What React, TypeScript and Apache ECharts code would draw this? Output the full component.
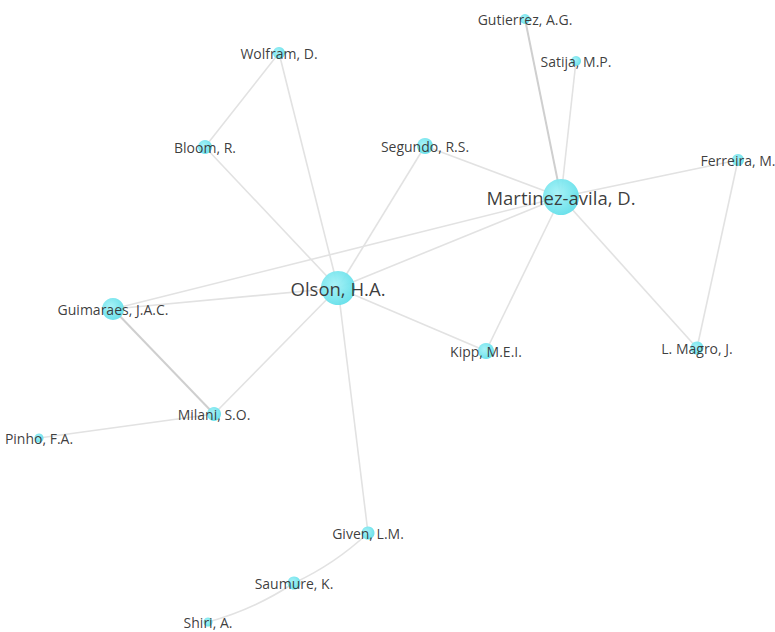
import React, { useEffect, useRef } from "react";
import * as echarts from "echarts";

const names = [
  "Martinez-avila, D.", "Olson, H.A.", "Guimaraes, J.A.C.", "Milani, S.O.", "Pinho, F.A.",
  "Given, L.M.", "Saumure, K.", "Shiri, A.", "Kipp, M.E.I.", "L. Magro, J.",
  "Ferreira, M.", "Segundo, R.S.", "Bloom, R.", "Wolfram, D.", "Gutierrez, A.G.", "Satija, M.P.",
];
const xs = [561, 338, 113, 214, 39, 368, 294, 208, 486, 697, 738, 425, 205, 279, 525, 576];
const ys = [197, 288, 309, 414, 438, 533, 583, 622, 351, 348, 160, 146, 147, 53, 19, 61];
const sizes = [36, 34, 22, 14, 9, 13, 13, 9, 16, 13, 12, 16, 14, 12, 10, 10];
const weights = [3, 3, 2, 1, 1, 1, 1, 1, 1, 1, 1, 1, 1, 1, 1, 1];

const edgeSources = [
  "Wolfram, D.", "Wolfram, D.", "Bloom, R.", "Segundo, R.S.", "Segundo, R.S.",
  "Olson, H.A.", "Guimaraes, J.A.C.", "Martinez-avila, D.", "Martinez-avila, D.", "Martinez-avila, D.",
  "Martinez-avila, D.", "Martinez-avila, D.", "Ferreira, M.", "Olson, H.A.", "Olson, H.A.",
  "Olson, H.A.", "Olson, H.A.", "Guimaraes, J.A.C.", "Milani, S.O.", "Given, L.M.", "Saumure, K.",
];
const edgeTargets = [
  "Bloom, R.", "Olson, H.A.", "Olson, H.A.", "Olson, H.A.", "Martinez-avila, D.",
  "Martinez-avila, D.", "Martinez-avila, D.", "Gutierrez, A.G.", "Satija, M.P.", "Ferreira, M.",
  "L. Magro, J.", "Kipp, M.E.I.", "L. Magro, J.", "Kipp, M.E.I.", "Guimaraes, J.A.C.",
  "Milani, S.O.", "Given, L.M.", "Milani, S.O.", "Pinho, F.A.", "Saumure, K.", "Shiri, A.",
];
const edgeWeights = [1, 1, 1, 1, 1, 1, 1, 2, 1, 1, 1, 1, 1, 1, 1, 1, 1, 2, 1, 1, 1];
const edgeCurves = [0, 0, 0, 0, 0, 0, 0, 0, 0, 0, 0, 0, 0, 0, 0, 0, 0, 0, 0, 0.08, 0.08];

export default function App() {
  const ref = useRef<HTMLDivElement>(null);
  useEffect(() => {
    document.body.style.margin = "0";
    const chart = echarts.init(ref.current!, undefined, { renderer: "svg" });
    const nodeColor = new echarts.graphic.RadialGradient(0.4, 0.4, 0.7, [
      { offset: 0, color: "#a4f2f7" },
      { offset: 1, color: "#5cdde8" },
    ]);
    chart.setOption({
      animation: false,
      backgroundColor: "#ffffff",
      grid: { left: 0, right: 0, top: 0, bottom: 0 },
      xAxis: { type: "value", min: 0, max: 775, show: false },
      yAxis: { type: "value", min: 0, max: 632, inverse: true, show: false },
      series: [
        {
          type: "graph",
          coordinateSystem: "cartesian2d",
          layout: "none",
          data: names.map((n, i) => ({
            name: n,
            value: [xs[i], ys[i]],
            symbolSize: sizes[i],
            label: {
              fontSize: weights[i] >= 3 ? 18.5 : 14,
            },
          })),
          links: edgeSources.map((s, i) => ({
            source: s,
            target: edgeTargets[i],
            lineStyle: {
              width: edgeWeights[i] > 1 ? 2 : 1.6,
              color: edgeWeights[i] > 1 ? "#cfcfcf" : "#e2e2e2",
              curveness: edgeCurves[i],
            },
          })),
          itemStyle: { color: nodeColor, opacity: 0.95 },
          label: {
            show: true,
            position: "inside",
            color: "#333333",
            fontFamily: "Open Sans",
            fontSize: 14,
          },
          lineStyle: { opacity: 1 },
          emphasis: { disabled: true },
        },
      ],
    });
    return () => chart.dispose();
  }, []);
  return <div ref={ref} style={{ width: 775, height: 632 }} />;
}
